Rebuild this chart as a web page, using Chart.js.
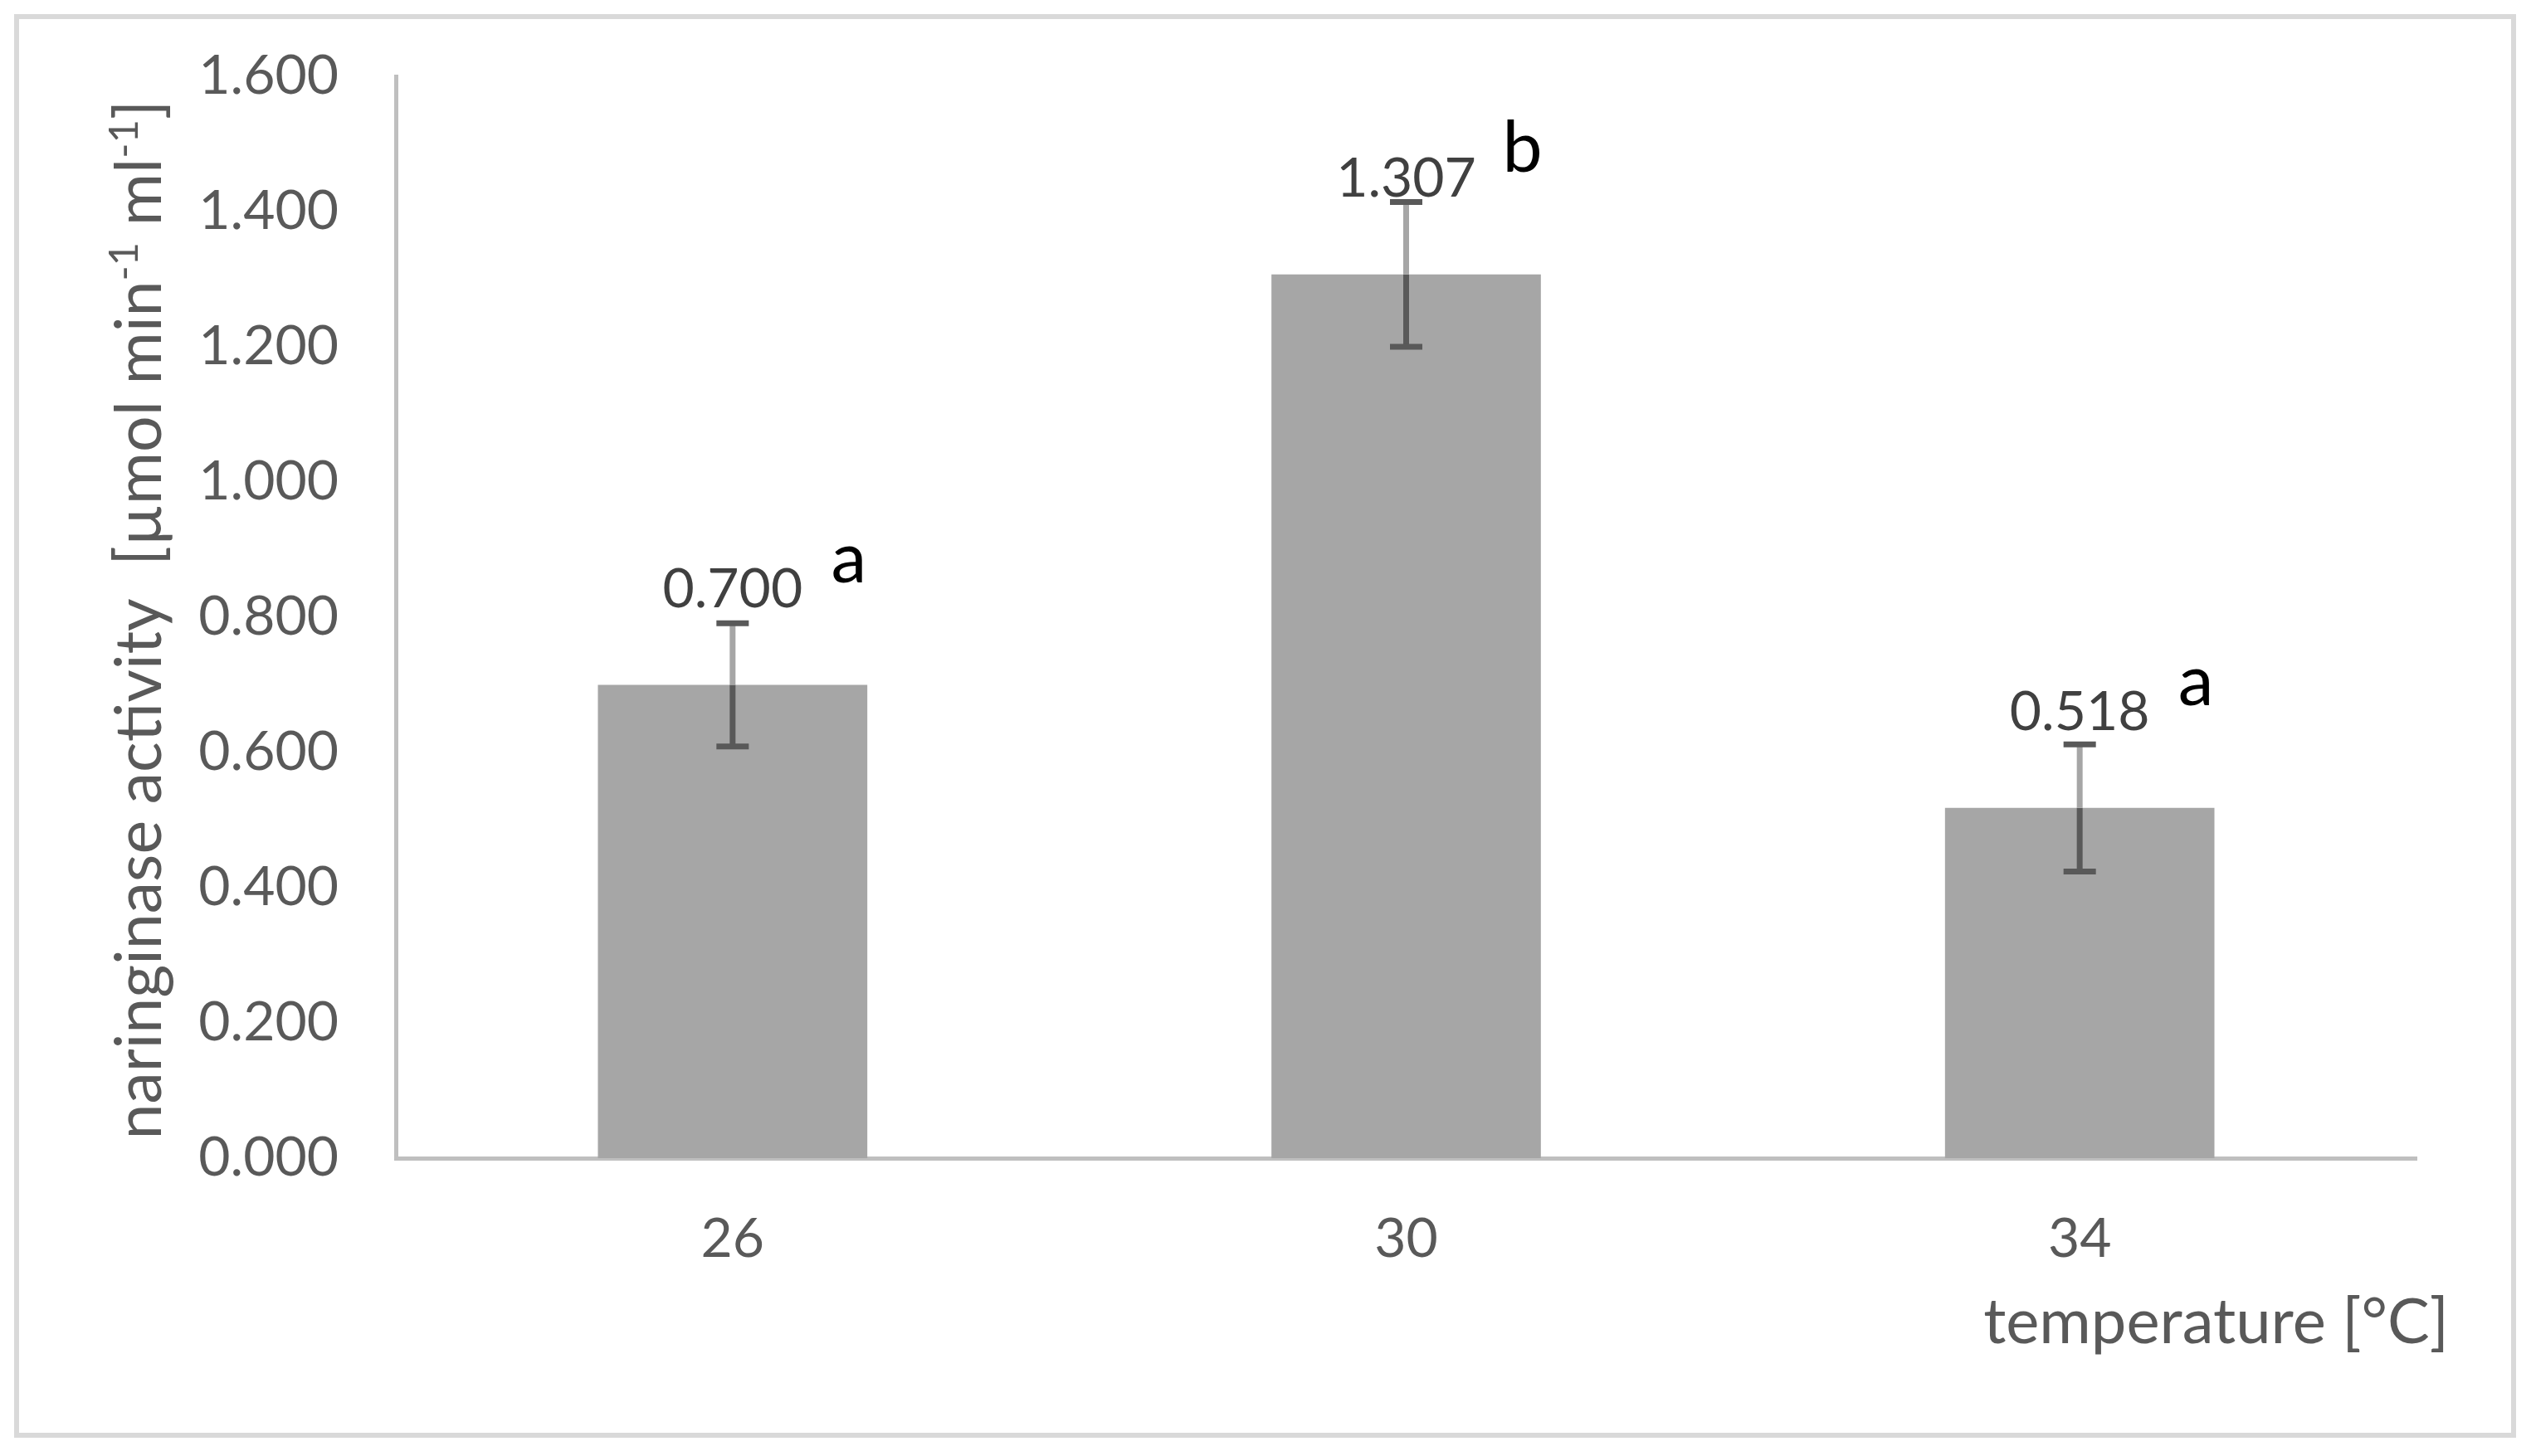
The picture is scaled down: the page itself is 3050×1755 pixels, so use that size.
<!DOCTYPE html>
<html>
<head>
<meta charset="utf-8">
<script src="https://cdn.jsdelivr.net/npm/chart.js@4.4.1/dist/chart.umd.min.js"></script>
<style>
  html, body { margin: 0; padding: 0; background: #fff; }
  canvas { display: block; }
</style>
</head>
<body>
<canvas id="activityChart" width="3050" height="1755"></canvas>
<script>
// Data
const temperatures = ['26', '30', '34'];
const activity = [0.700, 1.307, 0.518];
const activityErr = [0.091, 0.107, 0.094];
const sigLetters = ['a', 'b', 'a'];
const yTicks = [0, 0.2, 0.4, 0.6, 0.8, 1.0, 1.2, 1.4, 1.6];

// Colours
const BAR_GREY = '#a6a6a6';
const AXIS_GREY = '#bfbfbf';
const FRAME_GREY = '#d9d9d9';
const TEXT_GREY = '#595959';
const LABEL_GREY = '#404040';
const ERR_DARK = '#595959';

const FONT = "Lato, 'Open Sans', sans-serif";

// White background + outer frame
const framePlugin = {
    id: 'frame',
    beforeDraw(chart) {
        const ctx = chart.ctx;
        ctx.save();
        ctx.fillStyle = '#fff';
        ctx.fillRect(0, 0, chart.width, chart.height);
        ctx.strokeStyle = FRAME_GREY;
        ctx.lineWidth = 6;
        ctx.strokeRect(20, 20, 3009, 1710);
        ctx.restore();
    }
};

// Error bars: dark inside the bar, lighter above it
const errorBarPlugin = {
    id: 'errorBars',
    afterDatasetsDraw(chart) {
        const ctx = chart.ctx;
        const yScale = chart.scales.y;
        const meta = chart.getDatasetMeta(0);
        ctx.save();
        ctx.lineWidth = 7;
        meta.data.forEach((bar, i) => {
            const x = bar.x;
            const top = yScale.getPixelForValue(activity[i] + activityErr[i]);
            const bottom = yScale.getPixelForValue(activity[i] - activityErr[i]);

            ctx.strokeStyle = ERR_DARK;
            ctx.beginPath();
            ctx.moveTo(x, bottom);
            ctx.lineTo(x, bar.y);
            ctx.stroke();

            ctx.strokeStyle = BAR_GREY;
            ctx.beginPath();
            ctx.moveTo(x, bar.y);
            ctx.lineTo(x, top);
            ctx.stroke();

            ctx.strokeStyle = ERR_DARK;
            ctx.beginPath();
            ctx.moveTo(x - 19.5, top);
            ctx.lineTo(x + 19.5, top);
            ctx.moveTo(x - 19.5, bottom);
            ctx.lineTo(x + 19.5, bottom);
            ctx.stroke();
        });
        ctx.restore();
    }
};

// Value labels, significance letters and axis titles
const textPlugin = {
    id: 'texts',
    afterDraw(chart) {
        const ctx = chart.ctx;
        const meta = chart.getDatasetMeta(0);
        ctx.save();
        ctx.textAlign = 'center';
        ctx.textBaseline = 'alphabetic';
        meta.data.forEach((bar, i) => {
            ctx.fillStyle = LABEL_GREY;
            ctx.font = `66px ${FONT}`;
            ctx.fillText(activity[i].toFixed(3), bar.x, bar.y - 94);

            ctx.fillStyle = '#000';
            ctx.font = `86px ${FONT}`;
            ctx.fillText(sigLetters[i], bar.x + 140, bar.y - 124);
        });

        // x axis title, right aligned
        ctx.fillStyle = TEXT_GREY;
        ctx.font = `76px ${FONT}`;
        ctx.textAlign = 'right';
        ctx.fillText('temperature [°C]', 2951, 1619);

        // y axis title with superscripts
        const size = 77;
        const supSize = 49;
        const parts = [
            { t: 'naringinase activity  [µmol min', sup: false },
            { t: '-1', sup: true },
            { t: ' ml', sup: false },
            { t: '-1', sup: true },
            { t: ']', sup: false }
        ];
        let total = 0;
        parts.forEach(p => {
            ctx.font = `${p.sup ? supSize : size}px ${FONT}`;
            p.w = ctx.measureText(p.t).width;
            total += p.w;
        });
        ctx.translate(194, 747);
        ctx.rotate(-Math.PI / 2);
        ctx.textAlign = 'left';
        let pos = -total / 2;
        parts.forEach(p => {
            ctx.font = `${p.sup ? supSize : size}px ${FONT}`;
            ctx.fillText(p.t, pos, p.sup ? -28 : 0);
            pos += p.w;
        });
        ctx.restore();
    }
};

const ctx = document.getElementById('activityChart').getContext('2d');

new Chart(ctx, {
    type: 'bar',
    data: {
        labels: temperatures,
        datasets: [{
            data: activity,
            backgroundColor: BAR_GREY,
            borderWidth: 0,
            categoryPercentage: 1.0,
            barPercentage: 0.4
        }]
    },
    options: {
        responsive: false,
        animation: false,
        devicePixelRatio: 1,
        layout: {
            padding: { left: 0, top: 92, right: 138, bottom: 0 }
        },
        plugins: {
            legend: { display: false },
            tooltip: { enabled: false }
        },
        scales: {
            x: {
                // grid hidden; tickLength only spaces the labels away from the axis
                grid: { display: false, drawTicks: true, tickLength: 48 },
                border: { color: AXIS_GREY, width: 5 },
                ticks: {
                    color: TEXT_GREY,
                    font: { family: FONT, size: 66 },
                    padding: 10
                },
                afterFit(scale) { scale.height = 359; }
            },
            y: {
                min: 0,
                max: 1.6,
                grid: { display: false, drawTicks: true, tickLength: 59 },
                border: { color: AXIS_GREY, width: 5 },
                afterBuildTicks(scale) {
                    scale.ticks = yTicks.map(v => ({ value: v }));
                },
                ticks: {
                    color: TEXT_GREY,
                    font: { family: FONT, size: 66 },
                    padding: 10,
                    callback: value => value.toFixed(3)
                },
                afterFit(scale) { scale.width = 477; }
            }
        }
    },
    plugins: [framePlugin, errorBarPlugin, textPlugin]
});
</script>
</body>
</html>
